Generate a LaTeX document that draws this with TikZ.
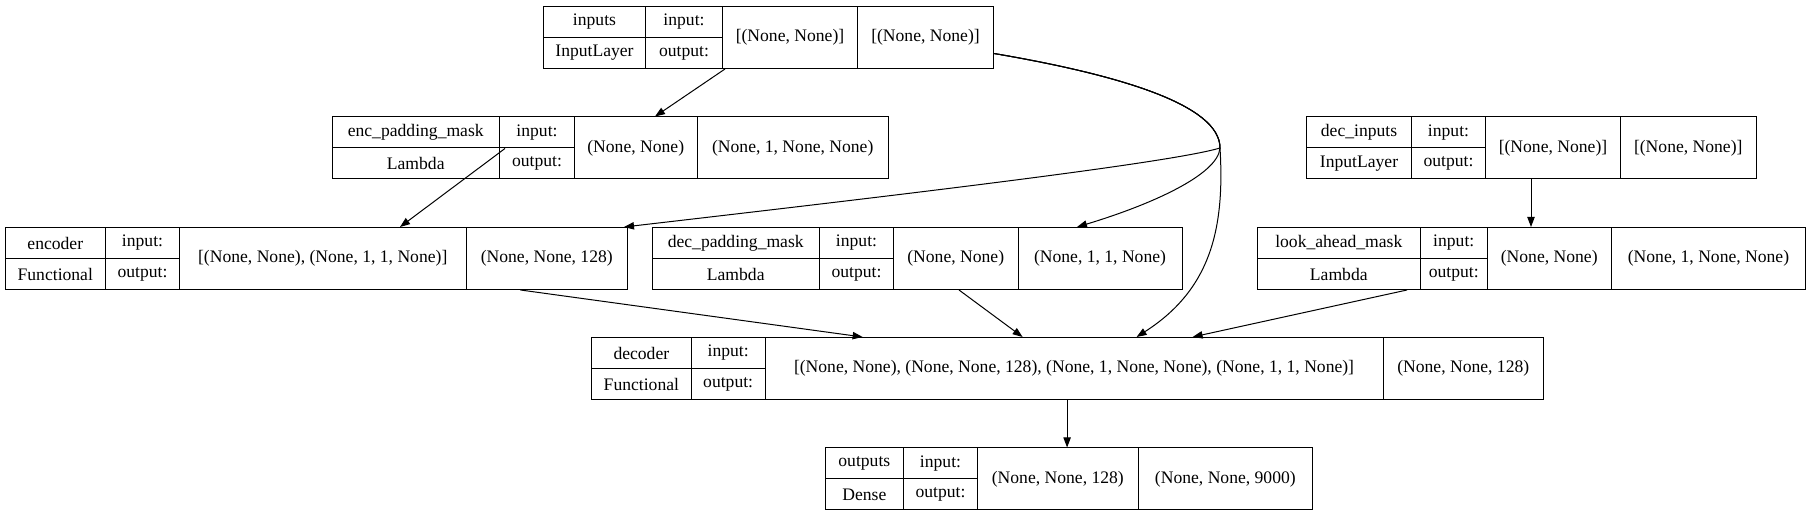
\documentclass[tikz,border=0pt]{standalone}
\usepackage{fontspec}
\setmainfont{Liberation Serif}
\usepackage{tikz}
\usetikzlibrary{calc,arrows.meta}

\newcommand{\layerfont}{\fontsize{13.2}{15}\selectfont}
\tikzset{
  cell/.style={draw, line width=0.75pt, inner sep=0pt, anchor=north west, font=\layerfont},
  edge/.style={line width=0.75pt, -{Triangle[length=7.5pt,width=5.5pt]}},
}

% left half of a layer: name/type and input:/output:
\newcommand{\layerleft}[7]{%
  \pgfmathsetmacro{\cellwa}{(#3-#2)*0.75}%
  \pgfmathsetmacro{\cellwb}{(#4-#3)*0.75}%
  \node[cell, minimum width=\cellwa pt, minimum height=23.25pt] (#1-name) at (#2,#5) {#6};
  \node[cell, minimum width=\cellwa pt, minimum height=23.25pt] (#1-type) at (#2,#5+31) {#7};
  \node[cell, minimum width=\cellwb pt, minimum height=23.25pt] (#1-il) at (#3,#5) {input:};
  \node[cell, minimum width=\cellwb pt, minimum height=23.25pt] (#1-ol) at (#3,#5+31) {output:};
}
% right half of a layer: input and output shapes
\newcommand{\layerright}[7]{%
  \pgfmathsetmacro{\cellwa}{(#3-#2)*0.75}%
  \pgfmathsetmacro{\cellwb}{(#4-#3)*0.75}%
  \node[cell, minimum width=\cellwa pt, minimum height=46.5pt] (#1-in) at (#2,#5) {#6};
  \node[cell, minimum width=\cellwb pt, minimum height=46.5pt] (#1-out) at (#3,#5) {#7};
}

\begin{document}
\begin{tikzpicture}[x=0.75pt, y=-0.75pt]
    \useasboundingbox (0,0) rectangle (1811,516);

    % Layers
    \layerleft{inputs}{543}{645}{722}{6}{inputs}{InputLayer}
    \layerright{inputs}{722}{857}{993}{6}{[(None, None)]}{[(None, None)]}

    \layerleft{enc}{331.5}{499}{574}{116.5}{enc\_padding\_mask}{Lambda}
    \layerright{enc}{574}{696.5}{888}{116.5}{(None, None)}{(None, 1, None, None)}

    \layerleft{decin}{1306}{1411}{1485}{116.5}{dec\_inputs}{InputLayer}
    \layerright{decin}{1485}{1620}{1755.5}{116.5}{[(None, None)]}{[(None, None)]}

    \layerleft{encoder}{4.6}{105}{179}{227}{encoder}{Functional}
    \layerright{encoder}{179}{465.5}{627}{227}{[(None, None), (None, 1, 1, None)]}{(None, None, 128)}

    \layerleft{decpad}{651.5}{819}{893}{227}{dec\_padding\_mask}{Lambda}
    \layerright{decpad}{893}{1017.5}{1181.5}{227}{(None, None)}{(None, 1, 1, None)}

    \layerleft{look}{1256.6}{1420}{1486.5}{227}{look\_ahead\_mask}{Lambda}
    \layerright{look}{1486.5}{1611}{1805}{227}{(None, None)}{(None, 1, None, None)}

    \layerleft{decoder}{591}{690.7}{764.6}{337}{decoder}{Functional}
    \layerright{decoder}{764.6}{1382.5}{1543}{337}{[(None, None), (None, None, 128), (None, 1, None, None), (None, 1, 1, None)]}{(None, None, 128)}

    \layerleft{outputs}{824.7}{903}{977}{447.5}{outputs}{Dense}
    \layerright{outputs}{977}{1137.7}{1312}{447.5}{(None, None, 128)}{(None, None, 9000)}

    % Edges
    \coordinate (fork) at (1220,148);
    \draw[edge] ($(inputs-in.south west)+(3,0)$) -- ($(enc-in.north west)+(81,0)$);
    \draw[edge] ($(inputs-out.east)+(0,16)$) .. controls (1120,75) and (1220,105) .. (fork)
        .. controls (1170,163) and (900,195) .. ($(encoder-out.north east)+(-4,0)$);
    \draw[edge] ($(inputs-out.east)+(0,16)$) .. controls (1120,75) and (1220,105) .. (fork)
        .. controls (1218,175) and (1150,205) .. ($(decpad-out.north west)+(59.5,0)$);
    \draw[edge] ($(inputs-out.east)+(0,16)$) .. controls (1120,75) and (1220,105) .. (fork)
        .. controls (1225,230) and (1210,290) .. ($(decoder-in.north west)+(372,0)$);
    \draw[edge] ($(enc-il.south west)+(6,0)$) -- ($(encoder-in.north west)+(221,0)$);
    \draw[edge] ($(decin-in.south west)+(46,0)$) coordinate (p1) -- (p1 |- look-in.north);
    \draw[edge] ($(encoder-out.south west)+(55,0)$) -- ($(decoder-in.north west)+(98,0)$);
    \draw[edge] ($(decpad-in.south west)+(66,0)$) -- ($(decoder-in.north west)+(258,0)$);
    \draw[edge] ($(look-type.south east)+(-14,0)$) -- ($(decoder-in.north west)+(428,0)$);
    \draw[edge] ($(decoder-in.south west)+(302.5,0)$) coordinate (p2) -- (p2 |- outputs-in.north);
\end{tikzpicture}
\end{document}
